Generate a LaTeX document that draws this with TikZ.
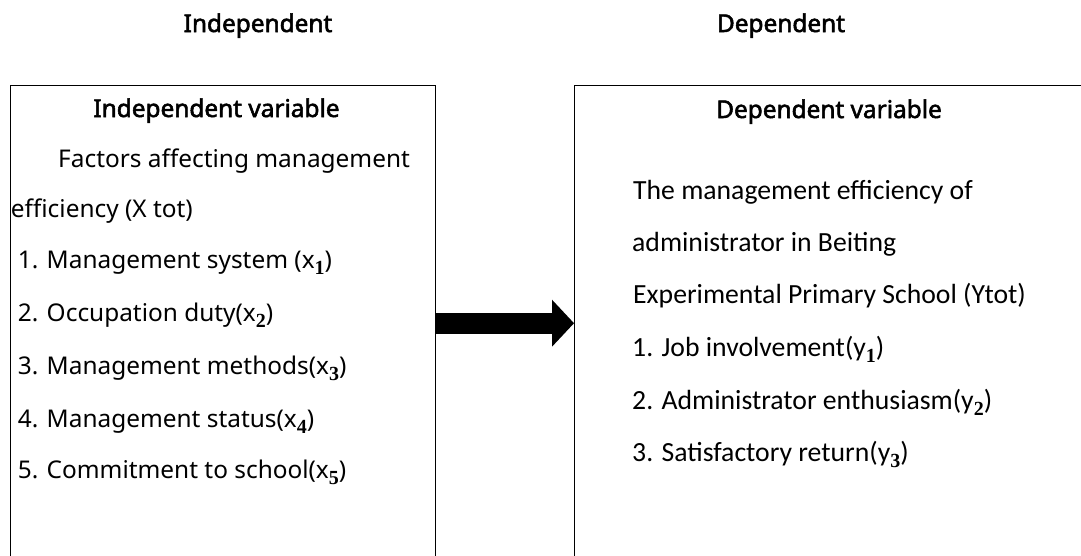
\documentclass[tikz,border=0pt]{standalone}
\usepackage{fontspec}
\setmainfont{Noto Sans}[AutoFakeBold=2.2]
\newfontfamily\rightfont{Carlito}
\newfontfamily\digitfont{Liberation Serif}
\usetikzlibrary{arrows.meta}
% bold lowered index digit, as in x_1
\newcommand{\subdigit}[1]{\raisebox{-6.5pt}{\digitfont\bfseries\fontsize{20}{20}\selectfont #1}}
\begin{document}
\begin{tikzpicture}[x=1pt,y=-1pt,
  frame/.style={draw=black, line width=1.4pt, inner sep=0pt, anchor=north west},
  headtext/.style={font=\fontsize{24.4}{28}\selectfont\bfseries, inner sep=0pt, anchor=base},
  lefttext/.style={font=\fontsize{24.4}{28}\selectfont, inner sep=0pt, anchor=base west},
  righttext/.style={font=\rightfont\fontsize{27.7}{32}\selectfont, inner sep=0pt, anchor=base west},
  flow/.style={line width=21pt, -{Triangle[length=22pt,width=47pt,line width=0pt]}}]
\useasboundingbox (0,0) rectangle (1081,555);
\clip (0,0) rectangle (1081,555);
\fill[white] (0,0) rectangle (1081,555);

% column headings
\node[headtext] (hin) at (258,32) {Independent};
\node[headtext] (hdep) at (781,32) {Dependent};

% the two frames (open at the bottom and right page edges)
\node[frame, minimum width=425pt, minimum height=475pt] (lbox) at (10,85) {};
\node[frame, minimum width=510pt, minimum height=475pt] (rbox) at (574,85) {};

% left frame contents
\node[headtext] (ltitle) at (216.5,117) {Independent variable};
\node[lefttext] (lf1) at (58,167) {Factors affecting management};
\node[lefttext] (lf2) at (10.7,217) {efficiency (X tot)};
\node[lefttext] (lx1) at (17.6,268) {1. Management system (x\subdigit{1})};
\node[lefttext] (lx2) at (17.6,321) {2. Occupation duty(x\subdigit{2})};
\node[lefttext] (lx3) at (17.6,374) {3. Management methods(x\subdigit{3})};
\node[lefttext] (lx4) at (17.6,427) {4. Management status(x\subdigit{4})};
\node[lefttext] (lx5) at (17.6,478) {5. Commitment to school(x\subdigit{5})};

% right frame contents
\node[headtext] (rtitle) at (829,118) {Dependent variable};
\node[righttext] (ry0a) at (633,199) {The management efficiency of};
\node[righttext] (ry0b) at (632,251) {administrator in Beiting};
\node[righttext] (ry0c) at (633,303) {Experimental Primary School (Ytot)};
\node[righttext] (ry1) at (632,356) {1. Job involvement(y\subdigit{1})};
\node[righttext] (ry2) at (632,409) {2. Administrator enthusiasm(y\subdigit{2})};
\node[righttext] (ry3) at (632,461) {3. Satisfactory return(y\subdigit{3})};

% block arrow between the frames
\draw[flow] (lbox.east) -- (rbox.west);
\end{tikzpicture}
\end{document}
